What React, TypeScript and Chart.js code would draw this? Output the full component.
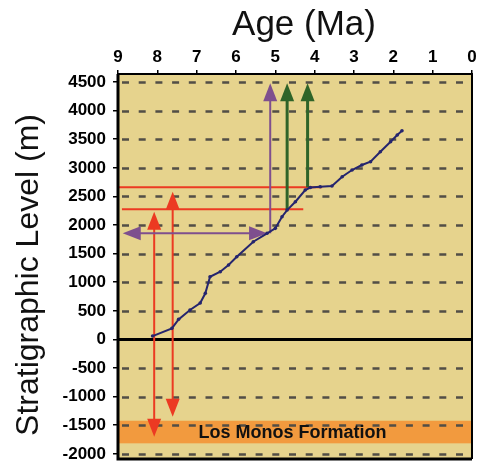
import React, { useEffect, useRef } from 'react';
import { Chart, registerables } from 'chart.js';

Chart.register(...registerables);

// ---- data ----
const curveAges = [8.12, 7.63, 7.46, 7.17, 6.91, 6.78, 6.66, 6.4, 6.19, 5.98, 5.56, 5.21, 5.0, 4.83, 4.7, 4.49, 4.24, 4.11, 3.86, 3.56, 3.3, 3.05, 2.8, 2.58, 2.33, 2.07, 1.9, 1.78];
const curveLevels = [59, 194, 351, 514, 636, 806, 1096, 1184, 1301, 1446, 1708, 1855, 1942, 2145, 2262, 2407, 2612, 2656, 2670, 2682, 2844, 2962, 3049, 3107, 3281, 3456, 3573, 3649];

const xTickValues = [9, 8, 7, 6, 5, 4, 3, 2, 1, 0];
const yTickValues = [-2000, -1500, -1000, -500, 0, 500, 1000, 1500, 2000, 2500, 3000, 3500, 4000, 4500];

// red double arrows (age, bottom level, top level)
const redArrowAges = [8.08, 7.61];
const redArrowBottoms = [-1701, -1351];
const redArrowTops = [2233, 2582];
// red horizontal lines (level, from age, to age)
const redLineLevels = [2659, 2274];
const redLineFrom = [9.0, 8.9];
const redLineTo = [3.81, 4.29];
// purple arrows
const purpleLevel = 1855;
const purpleFromAge = 8.88;
const purpleToAge = 5.21;
const purpleUpAge = 5.13;
const arrowTopLevel = 4477;
// green arrows
const greenArrowAges = [4.7, 4.18];
const greenArrowBottoms = [2262, 2659];
// Los Monos band
const bandLevels = [-1816, -1421];
const bandLabel = 'Los Monos Formation';

const FONT = "'Liberation Sans', Arial, Helvetica, sans-serif";
const BG = '#E6D38D';
const RED = '#EC3A22';
const PURPLE = '#7E4F8E';
const GREEN = '#2F6429';
const NAVY = '#25256E';

function arrowHead(ctx: CanvasRenderingContext2D, tx: number, ty: number, dx: number, dy: number, len: number, wid: number, color: string) {
  const n = Math.hypot(dx, dy) || 1;
  const ux = dx / n, uy = dy / n;
  const bx = tx - ux * len, by = ty - uy * len;
  ctx.beginPath();
  ctx.moveTo(tx, ty);
  ctx.lineTo(bx - uy * wid / 2, by + ux * wid / 2);
  ctx.lineTo(bx + uy * wid / 2, by - ux * wid / 2);
  ctx.closePath();
  ctx.fillStyle = color;
  ctx.fill();
}

function arrow(ctx: CanvasRenderingContext2D, x1: number, y1: number, x2: number, y2: number, color: string, width: number, startHead: boolean, endHead: boolean) {
  const len = 18, wid = 14;
  const n = Math.hypot(x2 - x1, y2 - y1) || 1;
  const ux = (x2 - x1) / n, uy = (y2 - y1) / n;
  const sx = startHead ? x1 + ux * (len - 2) : x1;
  const sy = startHead ? y1 + uy * (len - 2) : y1;
  const ex = endHead ? x2 - ux * (len - 2) : x2;
  const ey = endHead ? y2 - uy * (len - 2) : y2;
  ctx.beginPath();
  ctx.moveTo(sx, sy);
  ctx.lineTo(ex, ey);
  ctx.strokeStyle = color;
  ctx.lineWidth = width;
  ctx.stroke();
  if (endHead) arrowHead(ctx, x2, y2, ux, uy, len, wid, color);
  if (startHead) arrowHead(ctx, x1, y1, -ux, -uy, len, wid, color);
}

const customPlugin = {
  id: 'custom',
  beforeDatasetsDraw(chart: any) {
    const { ctx, chartArea: a, scales } = chart;
    const x = scales.x, y = scales.y;
    ctx.save();
    ctx.fillStyle = BG;
    ctx.fillRect(a.left, a.top, a.right - a.left, a.bottom - a.top);
    // band
    const b1 = y.getPixelForValue(bandLevels[1]);
    const b0 = y.getPixelForValue(bandLevels[0]);
    ctx.fillStyle = '#F29A3E';
    ctx.fillRect(a.left, b1, a.right - a.left, b0 - b1);
    // dashed gridlines
    ctx.strokeStyle = '#524E46';
    ctx.lineWidth = 2.5;
    ctx.setLineDash([7, 9.7]);
    yTickValues.forEach((v) => {
      if (v === 0) return;
      const py = Math.round(y.getPixelForValue(v)) + 0.5;
      ctx.beginPath();
      ctx.moveTo(a.left + 4, py);
      ctx.lineTo(a.right - 2, py);
      ctx.stroke();
    });
    ctx.setLineDash([]);
    // zero line
    ctx.strokeStyle = '#000';
    ctx.lineWidth = 3;
    const zy = y.getPixelForValue(0);
    ctx.beginPath();
    ctx.moveTo(a.left, zy);
    ctx.lineTo(a.right, zy);
    ctx.stroke();

    // red horizontal lines
    redLineLevels.forEach((lv, i) => {
      const py = y.getPixelForValue(lv);
      ctx.strokeStyle = RED;
      ctx.lineWidth = 2;
      ctx.beginPath();
      ctx.moveTo(x.getPixelForValue(redLineFrom[i]), py);
      ctx.lineTo(x.getPixelForValue(redLineTo[i]), py);
      ctx.stroke();
    });
    // red double arrows
    redArrowAges.forEach((ag, i) => {
      const px = x.getPixelForValue(ag);
      arrow(ctx, px, y.getPixelForValue(redArrowBottoms[i]), px, y.getPixelForValue(redArrowTops[i]), RED, 2, true, true);
    });
    // purple
    const ppy = y.getPixelForValue(purpleLevel);
    arrow(ctx, x.getPixelForValue(purpleFromAge), ppy, x.getPixelForValue(purpleToAge), ppy, PURPLE, 2, true, true);
    const pux = x.getPixelForValue(purpleUpAge);
    arrow(ctx, pux, ppy, pux, y.getPixelForValue(arrowTopLevel), PURPLE, 2, false, true);
    // green
    greenArrowAges.forEach((ag, i) => {
      const px = x.getPixelForValue(ag);
      arrow(ctx, px, y.getPixelForValue(greenArrowBottoms[i]), px, y.getPixelForValue(arrowTopLevel), GREEN, 3, false, true);
    });
    ctx.restore();
  },
  afterDatasetsDraw(chart: any) {
    const { ctx, chartArea: a, scales } = chart;
    const y = scales.y;
    ctx.save();
    // frame
    ctx.strokeStyle = '#000';
    ctx.lineWidth = 3;
    ctx.beginPath();
    ctx.moveTo(a.left, a.top);
    ctx.lineTo(a.left, a.bottom);
    ctx.lineTo(a.right, a.bottom);
    ctx.stroke();
    ctx.lineWidth = 2;
    ctx.beginPath();
    ctx.moveTo(a.left, a.top);
    ctx.lineTo(a.right, a.top);
    ctx.lineTo(a.right, a.bottom);
    ctx.stroke();
    // band label
    const by = (y.getPixelForValue(bandLevels[0]) + y.getPixelForValue(bandLevels[1])) / 2;
    ctx.fillStyle = '#111';
    ctx.font = `bold 18px ${FONT}`;
    ctx.textAlign = 'center';
    ctx.textBaseline = 'middle';
    ctx.fillText(bandLabel, 292.5, by + 1);
    // axis titles
    ctx.font = `35px ${FONT}`;
    ctx.textBaseline = 'alphabetic';
    ctx.fillText('Age (Ma)', 304, 35);
    ctx.translate(38, 275);
    ctx.rotate(-Math.PI / 2);
    ctx.font = `32px ${FONT}`;
    ctx.fillText('Stratigraphic Level (m)', 0, 0);
    ctx.restore();
  },
};

export default function App() {
  const ref = useRef<HTMLCanvasElement>(null);
  useEffect(() => {
    const canvas = ref.current;
    if (!canvas) return;
    const chart = new Chart(canvas, {
      type: 'scatter',
      data: {
        datasets: [
          {
            data: curveAges.map((a, i) => ({ x: a, y: curveLevels[i] })),
            showLine: true,
            borderColor: NAVY,
            backgroundColor: NAVY,
            borderWidth: 2,
            pointRadius: 1.8,
            pointBorderWidth: 0,
          },
        ],
      },
      options: {
        responsive: false,
        animation: false,
        devicePixelRatio: 1,
        layout: { padding: { left: 0, right: 10, top: 0, bottom: 4 } },
        plugins: { legend: { display: false }, tooltip: { enabled: false }, title: { display: false } },
        scales: {
          x: {
            type: 'linear',
            position: 'top',
            reverse: true,
            min: 0,
            max: 9,
            afterBuildTicks: (s: any) => { s.ticks = xTickValues.map((v) => ({ value: v })); },
            afterFit: (s: any) => { s.height = 74; s.paddingLeft = 0; s.paddingRight = 0; s.paddingTop = 0; s.paddingBottom = 0; },
            ticks: { color: '#000', font: { family: FONT, size: 17, weight: 'bold' }, padding: 2, autoSkip: false, maxRotation: 0, callback: (v: any) => String(v) },
            grid: { drawOnChartArea: false, drawTicks: true, tickLength: 4, color: '#000', lineWidth: 1.5 },
            border: { display: false },
          },
          y: {
            type: 'linear',
            min: -2090,
            max: 4640,
            afterBuildTicks: (s: any) => { s.ticks = yTickValues.map((v) => ({ value: v })); },
            afterFit: (s: any) => { s.width = 118; s.paddingTop = 0; s.paddingBottom = 0; s.paddingLeft = 0; s.paddingRight = 0; },
            ticks: { color: '#000', font: { family: FONT, size: 17, weight: 'bold' }, padding: 7, autoSkip: false, callback: (v: any) => String(v) },
            grid: { drawOnChartArea: false, drawTicks: true, tickLength: 5, color: '#000', lineWidth: 1.5 },
            border: { display: false },
          },
        },
      },
      plugins: [customPlugin],
    } as any);
    return () => chart.destroy();
  }, []);
  return (
    <div style={{ position: 'absolute', left: 0, top: 0, width: 482, height: 463, background: '#fff' }}>
      <canvas ref={ref} width={482} height={463} />
    </div>
  );
}
